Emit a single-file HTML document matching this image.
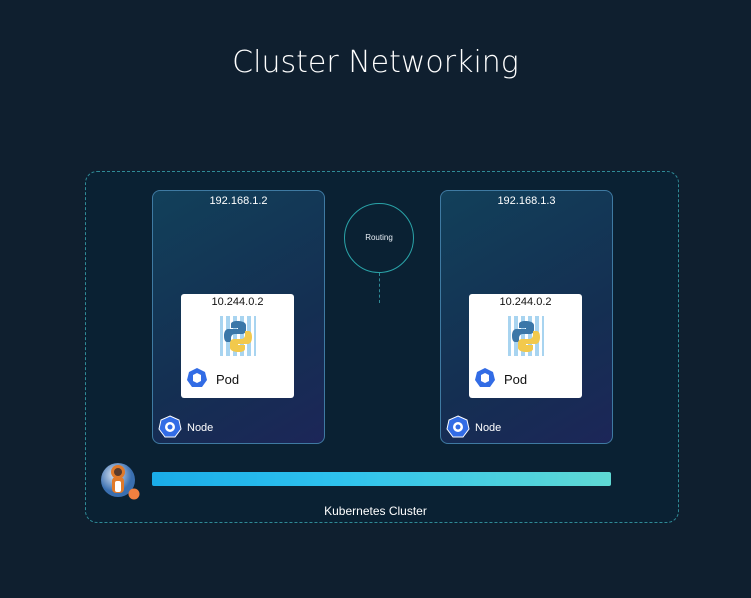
<!DOCTYPE html>
<html><head><meta charset="utf-8"><style>
*{margin:0;padding:0;box-sizing:border-box}
body{width:751px;height:598px;background:#0f1f2f;position:relative;overflow:hidden;font-family:"Liberation Sans","DejaVu Sans",sans-serif}
.abs{position:absolute}
.title{left:0;width:751px;top:45px;text-align:center;color:#fff;font-size:30px;font-family:"DejaVu Sans","Liberation Sans",sans-serif;font-weight:300;letter-spacing:0px}
.cluster{left:85px;top:171px;width:594px;height:352px;border:1px dashed #2f8a96;border-radius:12px;background:#0a2133}
.node{width:173px;height:254px;top:190px;border:1px solid #3f7aa2;border-radius:8px;background:linear-gradient(150deg,#12405a 0%,#142f52 60%,#1c2658 100%)}
.nip{left:0;width:100%;top:4px;text-align:center;color:#fff;font-size:11px}
.pod{width:113px;height:104px;background:#fff;border-radius:3px;top:103px;left:28px}
.pip{left:0;width:100%;top:2px;text-align:center;color:#111;font-size:11px}
.podlbl{left:35px;top:78px;font-size:13px;color:#111}
.nodelbl{left:34px;top:231px;font-size:11px;color:#fff}
.circle{left:344px;top:203px;width:70px;height:70px;border:1px solid #2aa3a8;border-radius:50%;color:#e8eef5;font-size:8px;text-align:center;line-height:68px}
.dash{left:379px;top:273px;height:30px;border-left:1px dashed #2f8a96}
.bar{left:152px;top:472px;width:459px;height:14px;border-radius:2px;background:linear-gradient(90deg,#1aace8,#2ec2ee 40%,#5fd9d4 100%)}
.clbl{left:0;width:751px;top:504px;text-align:center;color:#fff;font-size:12px}
</style></head><body>
<div class="abs title">Cluster Networking</div>
<div class="abs cluster"></div>

<div class="abs node" style="left:152px">
  <div class="abs nip">192.168.1.2</div>
  <div class="abs pod">
    <div class="abs pip">10.244.0.2</div>
    <svg class="abs" style="left:39px;top:22px" width="36" height="40" viewBox="0 0 36 40">
      <rect width="36" height="40" fill="#a8d4f0"/>
      <g fill="#fff"><rect x="3" y="0" width="3" height="40"/><rect x="10" y="0" width="3" height="40"/><rect x="17" y="0" width="3" height="40"/><rect x="24" y="0" width="3" height="40"/><rect x="31" y="0" width="3" height="40"/></g>
      <path d="M17 5c-6 0-6 3-6 3v4h7v1H8s-4 0-4 7 4 6 4 6h3v-4s0-4 4-4h7s4 0 4-4V9s0-4-9-4z" fill="#3b77a8"/>
      <path d="M19 36c6 0 6-3 6-3v-4h-7v-1h10s4 0 4-7-4-6-4-6h-3v4s0 4-4 4h-7s-4 0-4 4v5s0 4 9 4z" fill="#f2c94c"/>
    </svg>
    <svg class="abs" style="left:5px;top:73px" width="22" height="22" viewBox="0 0 22 22"><polygon points="11,1 19,5 21,13 16,20 6,20 1,13 3,5" fill="#326ce5"/><path d="M7 8l4-2 4 2v6l-4 2-4-2z" fill="#fff"/></svg>
    <div class="abs podlbl">Pod</div>
  </div>
  <svg class="abs" style="left:5px;top:224px" width="24" height="24" viewBox="0 0 24 24"><polygon points="12,1 21,5 23,14 17,22 7,22 1,14 3,5" fill="#326ce5" stroke="#fff" stroke-width="1"/><circle cx="12" cy="12" r="5" fill="#fff"/><circle cx="12" cy="12" r="2.5" fill="#326ce5"/></svg>
  <div class="abs nodelbl">Node</div>
</div>

<div class="abs node" style="left:440px">
  <div class="abs nip">192.168.1.3</div>
  <div class="abs pod">
    <div class="abs pip">10.244.0.2</div>
    <svg class="abs" style="left:39px;top:22px" width="36" height="40" viewBox="0 0 36 40">
      <rect width="36" height="40" fill="#a8d4f0"/>
      <g fill="#fff"><rect x="3" y="0" width="3" height="40"/><rect x="10" y="0" width="3" height="40"/><rect x="17" y="0" width="3" height="40"/><rect x="24" y="0" width="3" height="40"/><rect x="31" y="0" width="3" height="40"/></g>
      <path d="M17 5c-6 0-6 3-6 3v4h7v1H8s-4 0-4 7 4 6 4 6h3v-4s0-4 4-4h7s4 0 4-4V9s0-4-9-4z" fill="#3b77a8"/>
      <path d="M19 36c6 0 6-3 6-3v-4h-7v-1h10s4 0 4-7-4-6-4-6h-3v4s0 4-4 4h-7s-4 0-4 4v5s0 4 9 4z" fill="#f2c94c"/>
    </svg>
    <svg class="abs" style="left:5px;top:73px" width="22" height="22" viewBox="0 0 22 22"><polygon points="11,1 19,5 21,13 16,20 6,20 1,13 3,5" fill="#326ce5"/><path d="M7 8l4-2 4 2v6l-4 2-4-2z" fill="#fff"/></svg>
    <div class="abs podlbl">Pod</div>
  </div>
  <svg class="abs" style="left:5px;top:224px" width="24" height="24" viewBox="0 0 24 24"><polygon points="12,1 21,5 23,14 17,22 7,22 1,14 3,5" fill="#326ce5" stroke="#fff" stroke-width="1"/><circle cx="12" cy="12" r="5" fill="#fff"/><circle cx="12" cy="12" r="2.5" fill="#326ce5"/></svg>
  <div class="abs nodelbl">Node</div>
</div>

<div class="abs circle">Routing</div>
<div class="abs dash"></div>

<svg class="abs" style="left:100px;top:462px" width="42" height="40" viewBox="0 0 42 40">
  <defs><radialGradient id="g" cx="40%" cy="35%"><stop offset="0" stop-color="#dfe9f5"/><stop offset="1" stop-color="#3a6fb0"/></radialGradient></defs>
  <circle cx="18" cy="18" r="17" fill="url(#g)"/>
  <rect x="12" y="15" width="12" height="16" rx="4" fill="#e07a2a"/>
  <rect x="15" y="19" width="6" height="11" rx="2" fill="#fff"/>
  <circle cx="18" cy="10" r="7" fill="#e07a2a"/>
  <circle cx="18" cy="10" r="4" fill="#5a3a2a"/>
  <circle cx="34" cy="32" r="5.5" fill="#f08040"/>
</svg>
<div class="abs bar"></div>
<div class="abs clbl">Kubernetes Cluster</div>
</body></html>
